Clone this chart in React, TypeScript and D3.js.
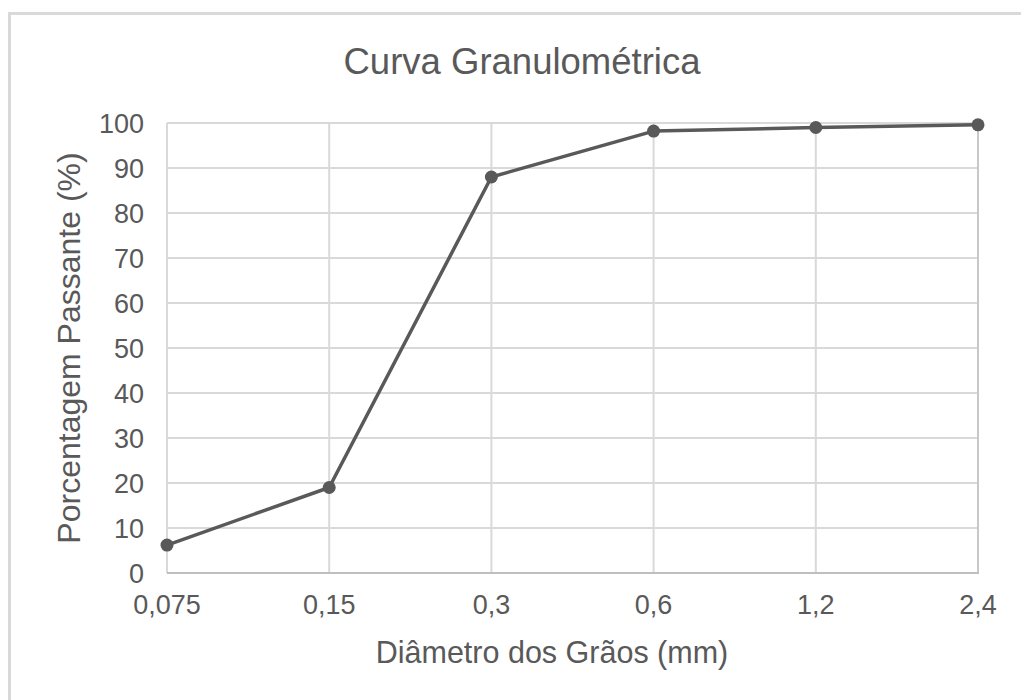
import React from "react";
import * as d3 from "d3";

const categories = ["0,075", "0,15", "0,3", "0,6", "1,2", "2,4"];
const passing = [6.2, 19, 88, 98.2, 99, 99.6];
const yTicks = [0, 10, 20, 30, 40, 50, 60, 70, 80, 90, 100];
const title = "Curva Granulométrica";
const xTitle = "Diâmetro dos Grãos (mm)";
const yTitle = "Porcentagem Passante (%)";

const W = 1021;
const H = 700;
const left = 167;
const right = 978;
const top = 123;
const bottom = 573;
const textColor = "#595959";
const font = "'Liberation Sans', Arial, sans-serif";

export default function App() {
  const x = d3.scalePoint<string>().domain(categories).range([left, right]);
  const y = d3.scaleLinear().domain([0, 100]).range([bottom, top]);
  const line = d3
    .line<number>()
    .x((_, i) => x(categories[i]) as number)
    .y((d) => y(d));

  return (
    <svg
      width={W}
      height={H}
      style={{ position: "absolute", left: 0, top: 0, background: "#fff" }}
      fontFamily={font}
    >
      <rect x={0} y={0} width={W} height={H} fill="#fff" />
      <rect x={9.5} y={13.5} width={1040} height={720} fill="#fff" stroke="#d9d9d9" strokeWidth={3} />
      <text x={522} y={74} textAnchor="middle" fontSize={36.5} fill={textColor}>
        {title}
      </text>
      {yTicks.filter((t) => t > 0).map((t) => (
        <line key={"h" + t} x1={left} x2={right} y1={y(t)} y2={y(t)} stroke="#d9d9d9" strokeWidth={2} />
      ))}
      {categories.map((c, i) => (
        <line
          key={"v" + c}
          x1={x(c)}
          x2={x(c)}
          y1={top}
          y2={bottom}
          stroke={i === categories.length - 1 ? "#c8c8c8" : "#d9d9d9"}
          strokeWidth={2}
        />
      ))}
      <line x1={left} x2={right + 1} y1={y(0)} y2={y(0)} stroke="#bfbfbf" strokeWidth={2} />
      {yTicks.map((t) => (
        <text key={"yt" + t} x={144} y={y(t)} dy="0.36em" textAnchor="end" fontSize={27} fill={textColor}>
          {t}
        </text>
      ))}
      {categories.map((c) => (
        <text key={"xt" + c} x={x(c)} y={614} textAnchor="middle" fontSize={27} fill={textColor}>
          {c}
        </text>
      ))}
      <text x={552} y={663} textAnchor="middle" fontSize={30.5} fill={textColor}>
        {xTitle}
      </text>
      <text
        transform={`translate(80,348) rotate(-90)`}
        textAnchor="middle"
        fontSize={32}
        fill={textColor}
      >
        {yTitle}
      </text>
      <path d={line(passing) || ""} fill="none" stroke="#595959" strokeWidth={3.5} strokeLinejoin="round" />
      {passing.map((v, i) => (
        <circle key={"p" + i} cx={x(categories[i])} cy={y(v)} r={6.5} fill="#595959" />
      ))}
    </svg>
  );
}
